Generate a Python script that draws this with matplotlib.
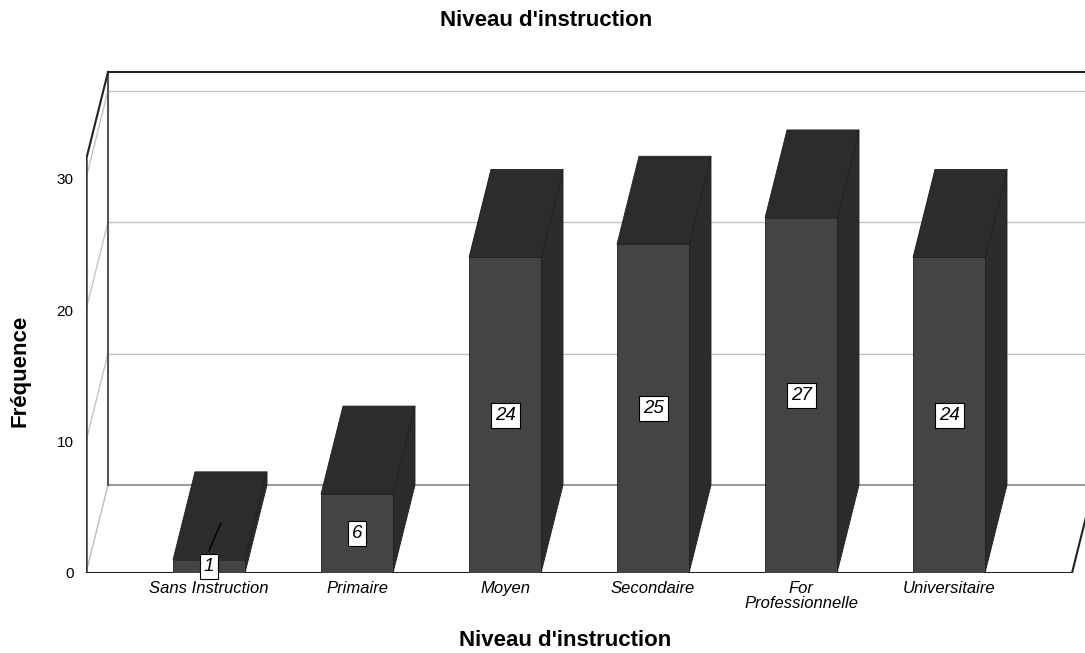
import matplotlib as mpl
mpl.use('Agg')
import matplotlib.pyplot as plt
from matplotlib.patches import Polygon, Rectangle

categories = ['Sans Instruction', 'Primaire', 'Moyen', 'Secondaire',
              'For\nProfessionnelle', 'Universitaire']
counts = [1, 6, 24, 25, 27, 24]
yticks = [0, 10, 20, 30]

plt.rcParams['font.family'] = ['Liberation Sans', 'DejaVu Sans']

FRONT = '#434446'
TOP = '#2b2c2e'
SIDE = '#2a2b2b'
EDGE = '#1e1e1e'

W, H = 1085, 653
fig = plt.figure(figsize=(W / 100, H / 100), dpi=100)

# axes box in pixels: left 86, bottom 573, right 1085, top 60
ax = fig.add_axes([86 / W, (H - 573) / H, (W - 86) / W, (573 - 60) / H])
px_per_cat = 148.0
px_per_unit = 13.15
ax.set_xlim((86 - 209) / px_per_cat, (W - 209) / px_per_cat)
ax.set_ylim(0, (573 - 60) / px_per_unit)
for s in ax.spines.values():
    s.set_visible(False)

# 3D depth offset (data units)
ddx = 22 / px_per_cat
ddy = 88 / px_per_unit
xl = ax.get_xlim()[0]
xr_floor = (1072 - 209) / px_per_cat
xr_far = ax.get_xlim()[1] + 1
ymax = 31.4
bw = 72 / px_per_cat

# walls and floor
for v in yticks[1:]:
    ax.plot([xl + ddx, xr_far], [v + ddy, v + ddy], color='#c4c4c4', lw=1, zorder=1)
    ax.plot([xl, xl + ddx], [v, v + ddy], color='#c4c4c4', lw=1, zorder=1)
ax.plot([xl, xl + ddx], [0, ddy], color='#bdbdbd', lw=1, zorder=1)
ax.plot([xl + ddx, xr_far], [ddy, ddy], color='#9c9c9c', lw=1.5, zorder=1)
ax.plot([xl + ddx, xl + ddx], [ddy, ymax + ddy], color='#555555', lw=1.5, zorder=1)
ax.plot([xl, xl], [0, ymax], color='#3a3a3a', lw=1.8, zorder=2)
ax.plot([xl, xl + ddx], [ymax, ymax + ddy], color='#222222', lw=1.5, zorder=2)
ax.plot([xl + ddx, xr_far], [ymax + ddy, ymax + ddy], color='#222222', lw=1.5, zorder=2)
ax.plot([xl, xr_floor], [0, 0], color='#222222', lw=1.5, zorder=2)
ax.plot([xr_floor, xr_floor + ddx], [0, ddy], color='#222222', lw=1.5, zorder=2)

# bars
for i, v in enumerate(counts):
    x0 = i - bw / 2
    x1 = i + bw / 2
    side = Polygon([(x1, 0), (x1, v), (x1 + ddx, v + ddy), (x1 + ddx, ddy)],
                   closed=True, fc=SIDE, ec=EDGE, lw=0.6, zorder=3)
    top = Polygon([(x0, v), (x1, v), (x1 + ddx, v + ddy), (x0 + ddx, v + ddy)],
                  closed=True, fc=TOP, ec=EDGE, lw=0.6, zorder=3)
    front = Rectangle((x0, 0), bw, v, fc=FRONT, ec=EDGE, lw=0.6, zorder=4)
    ax.add_patch(side)
    ax.add_patch(top)
    ax.add_patch(front)
    ax.text(i, v / 2, str(v), ha='center', va='center', fontsize=13.5,
            style='italic', zorder=6,
            bbox=dict(boxstyle='square,pad=0.22', fc='white', ec='black', lw=0.8))

# leader line on the small bar
ax.plot([0, 0.08], [1.7, 3.8], color='black', lw=1, zorder=5)

ax.set_yticks(yticks)
ax.set_yticklabels([str(t) for t in yticks], fontsize=11)
ax.set_xticks(range(len(categories)))
ax.set_xticklabels(categories, fontsize=12, style='italic', linespacing=1.0)
ax.tick_params(axis='y', length=0, pad=9)
ax.tick_params(axis='x', length=0, pad=6)

fig.text(546 / W, 1 - 20 / H, "Niveau d'instruction", ha='center', va='center',
         fontsize=16, fontweight='bold')
fig.text(565 / W, 1 - 640 / H, "Niveau d'instruction", ha='center', va='center',
         fontsize=16, fontweight='bold')
fig.text(20 / W, 1 - 371 / H, 'Fréquence', ha='center', va='center',
         rotation=90, fontsize=16, fontweight='bold')

fig.savefig('out.png', dpi=100)
